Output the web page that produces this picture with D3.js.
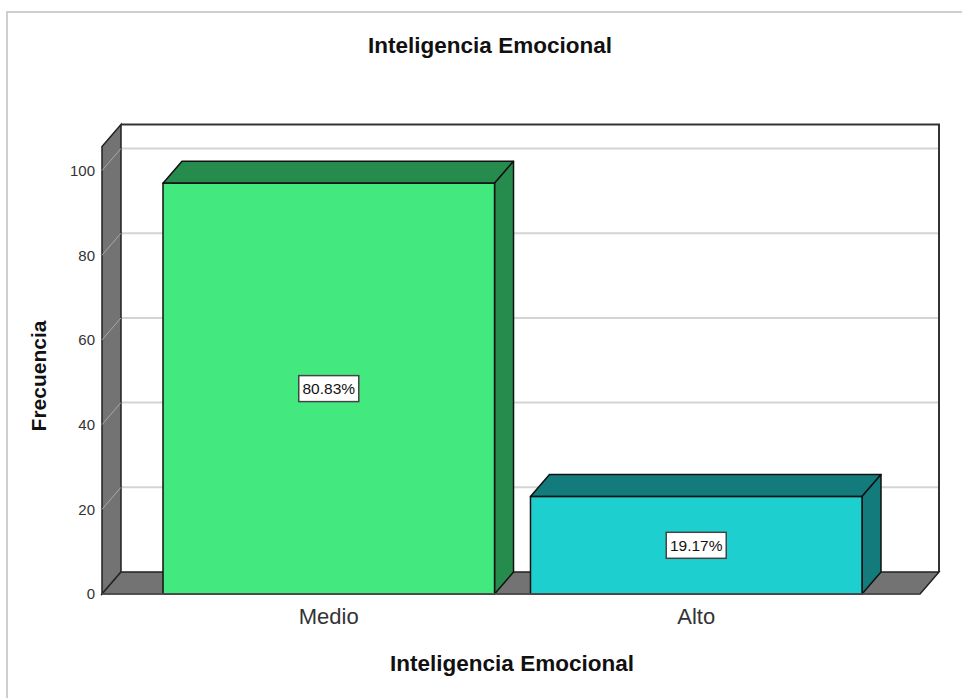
<!DOCTYPE html>
<html>
<head>
<meta charset="utf-8">
<script src="https://cdn.jsdelivr.net/npm/d3@7"></script>
<style>
  body { margin:0; background:#fff; }
  text { font-family: "Liberation Sans", Arial, sans-serif; }
</style>
</head>
<body>
<svg id="chart" width="962" height="698"></svg>
<script>
// data
var categories = ["Medio", "Alto"];
var counts = [97, 23];
var percents = ["80.83%", "19.17%"];
var yTicks = [0, 20, 40, 60, 80, 100];

var front_col = ["#43e97f", "#1dcfcf"];
var side_col  = ["#268c4e", "#137b7b"];

var svg = d3.select('#chart');

// depth of the 3d effect
var ddx = 19, ddy = -22;

var y = d3.scaleLinear().domain([0, 100]).range([594, 170.5]);
var x = d3.scaleBand().domain(categories).range([163, 862]).paddingInner(36/368).paddingOuter(0);

var left = 102, right = 920, bottom = y(0), top_ = y(100) - 24;

// outer frame
svg.append('path')
    .attr('d', 'M7,700 L7,12 L964,12')
    .attr('fill', 'none')
    .attr('stroke', '#cfcfcf')
    .attr('stroke-width', 2);

// back wall
svg.append('rect')
    .attr('x', left + ddx).attr('y', top_ + ddy)
    .attr('width', right - left).attr('height', bottom - top_)
    .attr('fill', '#fff');

// gridlines on back wall
svg.append('g').selectAll('line')
    .data(yTicks.slice(1))
    .enter().append('line')
    .attr('x1', left + ddx).attr('x2', right + ddx)
    .attr('y1', d => y(d) + ddy).attr('y2', d => y(d) + ddy)
    .attr('stroke', '#d4d4d4').attr('stroke-width', 2);

// back wall border (top + right)
svg.append('path')
    .attr('d', 'M' + (left + ddx) + ',' + (top_ + ddy) + ' L' + (right + ddx) + ',' + (top_ + ddy) +
               ' L' + (right + ddx) + ',' + (bottom + ddy))
    .attr('fill', 'none').attr('stroke', '#333').attr('stroke-width', 2);

// left wall
svg.append('polygon')
    .attr('points', [[left, bottom], [left, top_], [left + ddx, top_ + ddy], [left + ddx, bottom + ddy]].join(' '))
    .attr('fill', '#737373').attr('stroke', '#222').attr('stroke-width', 1.5);

svg.append('g').selectAll('line')
    .data(yTicks)
    .enter().append('line')
    .attr('x1', left).attr('x2', left + ddx)
    .attr('y1', d => y(d)).attr('y2', d => y(d) + ddy)
    .attr('stroke', '#a8a8a8').attr('stroke-width', 1);

// floor
svg.append('polygon')
    .attr('points', [[left, bottom], [left + ddx, bottom + ddy], [right + ddx, bottom + ddy], [right, bottom]].join(' '))
    .attr('fill', '#737373').attr('stroke', '#222').attr('stroke-width', 1.5);

// bars
var bars = svg.append('g').selectAll('g')
    .data(categories)
    .enter().append('g');

// top face
bars.append('polygon')
    .attr('points', function(d, i) {
        var x0 = x(d), x1 = x(d) + x.bandwidth(), yt = y(counts[i]);
        return [[x0, yt], [x0 + ddx, yt + ddy], [x1 + ddx, yt + ddy], [x1, yt]].join(' ');
    })
    .attr('fill', (d, i) => side_col[i])
    .attr('stroke', '#111').attr('stroke-width', 1.5).attr('stroke-linejoin', 'round');

// side face
bars.append('polygon')
    .attr('points', function(d, i) {
        var x1 = x(d) + x.bandwidth(), yt = y(counts[i]);
        return [[x1, yt], [x1 + ddx, yt + ddy], [x1 + ddx, bottom + ddy], [x1, bottom]].join(' ');
    })
    .attr('fill', (d, i) => side_col[i])
    .attr('stroke', '#111').attr('stroke-width', 1.5).attr('stroke-linejoin', 'round');

// front face
bars.append('rect')
    .attr('x', d => x(d))
    .attr('y', (d, i) => y(counts[i]))
    .attr('width', x.bandwidth())
    .attr('height', (d, i) => bottom - y(counts[i]))
    .attr('fill', (d, i) => front_col[i])
    .attr('stroke', '#111').attr('stroke-width', 1.5);

// front floor edge
svg.append('line')
    .attr('x1', left).attr('x2', right)
    .attr('y1', bottom).attr('y2', bottom)
    .attr('stroke', '#555').attr('stroke-width', 1.5);

// percent labels
var lab = svg.append('g').selectAll('g')
    .data(categories)
    .enter().append('g')
    .attr('transform', (d, i) => 'translate(' + (x(d) + x.bandwidth() / 2) + ',' + y(counts[i] / 2) + ')');

lab.append('rect')
    .attr('x', -30).attr('y', -13).attr('width', 60).attr('height', 26)
    .attr('fill', '#fff').attr('stroke', '#444').attr('stroke-width', 1.5);

lab.append('text')
    .attr('text-anchor', 'middle')
    .attr('dy', '0.36em')
    .attr('font-size', '15.5px')
    .attr('fill', '#111')
    .text((d, i) => percents[i]);

// y axis
var yAxis = svg.append('g')
    .attr('transform', 'translate(' + left + ',0)')
    .call(d3.axisLeft(y).tickValues(yTicks).tickSize(0).tickPadding(7));
yAxis.select('.domain').remove();
yAxis.selectAll('text')
    .attr('font-family', '"Liberation Sans", Arial, sans-serif')
    .attr('font-size', '15px')
    .attr('fill', '#333');

// category labels
svg.append('g').selectAll('text')
    .data(categories)
    .enter().append('text')
    .attr('x', d => x(d) + x.bandwidth() / 2)
    .attr('y', 624)
    .attr('text-anchor', 'middle')
    .attr('font-size', '22px')
    .attr('fill', '#333')
    .text(d => d);

// titles
svg.append('text')
    .attr('x', 490).attr('y', 53)
    .attr('text-anchor', 'middle')
    .attr('font-size', '22.5px').attr('font-weight', 'bold')
    .attr('fill', '#111')
    .text('Inteligencia Emocional');

svg.append('text')
    .attr('x', 512).attr('y', 671)
    .attr('text-anchor', 'middle')
    .attr('font-size', '22.5px').attr('font-weight', 'bold')
    .attr('fill', '#111')
    .text('Inteligencia Emocional');

svg.append('text')
    .attr('transform', 'translate(46,376) rotate(-90)')
    .attr('text-anchor', 'middle')
    .attr('font-size', '21px').attr('font-weight', 'bold')
    .attr('fill', '#111')
    .text('Frecuencia');
</script>
</body>
</html>
